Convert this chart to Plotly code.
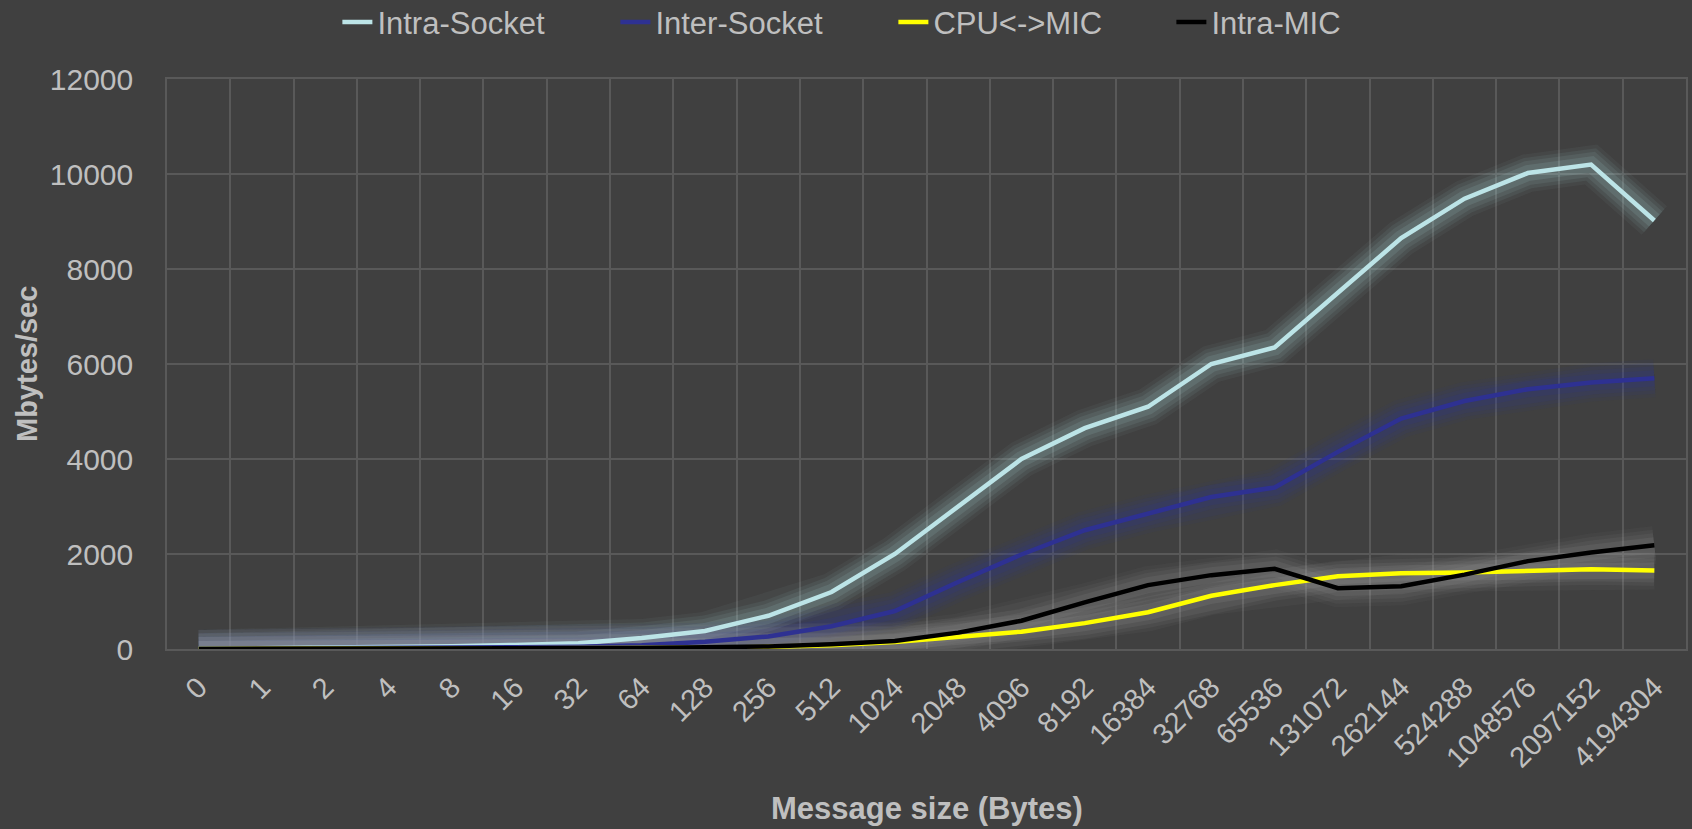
import plotly.graph_objects as go

categories = ["0", "1", "2", "4", "8", "16", "32", "64", "128", "256", "512", "1024",
              "2048", "4096", "8192", "16384", "32768", "65536", "131072", "262144",
              "524288", "1048576", "2097152", "4194304"]

intra_socket = [5, 15, 25, 40, 60, 85, 120, 230, 380, 700, 1200, 2000,
                3000, 4000, 4650, 5100, 6000, 6350, 7500, 8650, 9480, 10020, 10200, 9020]
inter_socket = [5, 8, 12, 18, 25, 35, 50, 80, 155, 265, 480, 800,
                1410, 1990, 2500, 2850, 3200, 3400, 4150, 4850, 5220, 5470, 5610, 5700]
cpu_mic = [1, 2, 3, 4, 5, 6, 10, 16, 28, 45, 80, 150,
           250, 365, 545, 775, 1120, 1345, 1530, 1595, 1610, 1650, 1680, 1655]
intra_mic = [1, 2, 3, 4, 5, 8, 12, 20, 35, 55, 100, 170,
             345, 595, 980, 1345, 1555, 1690, 1280, 1320, 1565, 1850, 2030, 2185]

series = [
    ("Intra-Socket", intra_socket, "#BCE4E7", (176, 220, 224)),
    ("Inter-Socket", inter_socket, "#2E3192", (45, 50, 170)),
    ("CPU<->MIC", cpu_mic, "#FFFF00", (175, 175, 175)),
    ("Intra-MIC", intra_mic, "#000000", (160, 160, 160)),
]

TXT = "#BFBFBF"
GRID = "#595959"
FONT = "Liberation Sans, Arial, sans-serif"

fig = go.Figure()

# glow layers
for name, vals, col, g in series:
    for w, a in [(38, 0.05), (31, 0.07), (24, 0.09), (16, 0.12)]:
        fig.add_trace(go.Scatter(
            x=categories, y=vals, mode="lines",
            line=dict(color=f"rgba({g[0]},{g[1]},{g[2]},{a})", width=w),
            showlegend=False, hoverinfo="skip"))

for name, vals, col, g in series:
    fig.add_trace(go.Scatter(
        x=categories, y=vals, mode="lines", name=name,
        line=dict(color=col, width=4.5)))

fig.update_layout(
    width=1692, height=829,
    paper_bgcolor="#404040", plot_bgcolor="#404040",
    margin=dict(l=167, r=4, t=79, b=180),
    font=dict(family=FONT, color=TXT, size=30),
    legend=dict(orientation="h", xref="container", yref="container",
                x=0.528, xanchor="center", y=0.973, yanchor="middle",
                font=dict(size=31, color=TXT), bgcolor="rgba(0,0,0,0)",
                itemwidth=30, entrywidth=233, entrywidthmode="pixels"),
    xaxis=dict(type="category", range=[-0.5, 23.5], tickson="boundaries",
               showgrid=True, gridcolor=GRID, gridwidth=1.5,
               showline=True, linecolor=GRID, linewidth=1.5, mirror=True,
               ticks="", tickangle=-45, tickfont=dict(size=29, color=TXT),
               ticklabelstandoff=8),
    yaxis=dict(range=[0, 12000], dtick=2000, tickformat="d", showgrid=True, gridcolor=GRID,
               gridwidth=1.5, zeroline=True, zerolinecolor=GRID, zerolinewidth=1.5,
               showline=True, linecolor=GRID, linewidth=1.5, mirror=True,
               ticks="", tickfont=dict(size=30, color=TXT), ticklabelstandoff=26),
    annotations=[
        dict(text="<b>Message size (Bytes)</b>", xref="paper", yref="paper",
             x=0.5, y=0, yshift=-159, xanchor="center", yanchor="middle",
             showarrow=False, font=dict(size=31, color=TXT, family=FONT)),
        dict(text="<b>Mbytes/sec</b>", xref="paper", yref="paper",
             x=0, xshift=-140, y=0.5, xanchor="center", yanchor="middle",
             textangle=-90, showarrow=False, font=dict(size=29, color=TXT, family=FONT)),
    ],
)

fig.write_html("out.html", config={"displayModeBar": False},
               post_script="document.body.style.margin='0';document.body.style.overflow='hidden';")
